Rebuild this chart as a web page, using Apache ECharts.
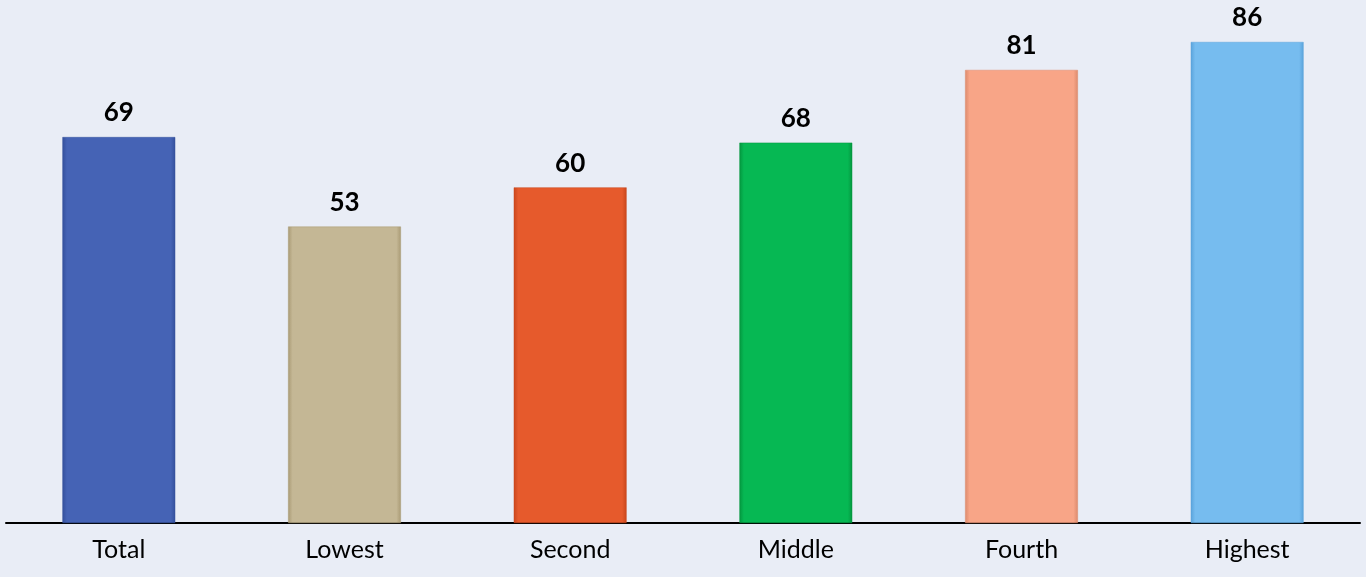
<!DOCTYPE html>
<html><head><meta charset="utf-8">
<script src="https://cdn.jsdelivr.net/npm/echarts@6/dist/echarts.min.js"></script>
<style>html,body{margin:0;padding:0;background:#E9EDF6;}#c{width:1366px;height:577px;}</style>
</head><body><div id="c"></div>
<script>
const categories = ['Total','Lowest','Second','Middle','Fourth','Highest'];
const values = [69,53,60,68,81,86];
const colors = ['#4563B5','#C4B795','#E65A2C','#06B853','#F8A587','#76BCEF'];
const edgeColors = ['#34509C','#A99A74','#C9461C','#04963F','#DC8A6C','#5AA3DB'];

const chart = echarts.init(document.getElementById('c'));
chart.setOption({
  backgroundColor:'#E9EDF6',
  animation:false,
  grid:{left:6,right:6,top:19.6,bottom:54},
  xAxis:{type:'category',data:categories,
    axisLine:{show:true,lineStyle:{color:'#000',width:2}},
    axisTick:{show:false},
    axisLabel:{color:'#000',fontSize:25,fontFamily:'Lato, "Open Sans", sans-serif',margin:14}},
  yAxis:{type:'value',min:0,max:90,show:false,splitLine:{show:false}},
  series:[{type:'bar',barWidth:'50%',
    data: values.map((v,i)=>({value:v,itemStyle:{
      color:{type:'linear',x:0,y:0,x2:1,y2:0,colorStops:[
        {offset:0,color:edgeColors[i]},{offset:0.04,color:colors[i]},
        {offset:0.96,color:colors[i]},{offset:1,color:edgeColors[i]}]},
      borderColor:edgeColors[i],borderWidth:0.5}})),
    label:{show:true,position:'top',distance:11,color:'#000',fontWeight:'bold',fontSize:26,
      fontFamily:'Lato, "Open Sans", sans-serif'}
  }]
});
</script></body></html>
